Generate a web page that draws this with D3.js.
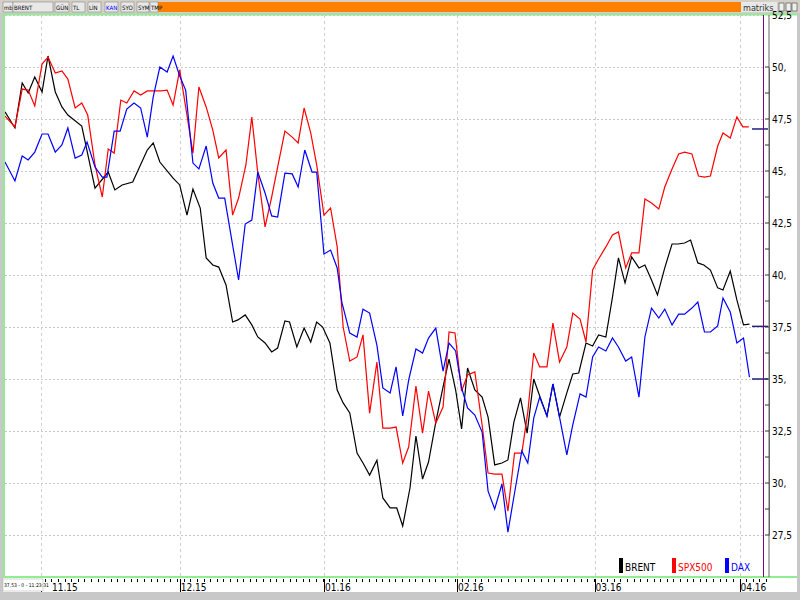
<!DOCTYPE html>
<html><head><meta charset="utf-8">
<script src="https://cdn.jsdelivr.net/npm/d3@7"></script>
<style>body{margin:0;background:#fff;overflow:hidden}svg{display:block}text{font-family:"Liberation Sans Narrow","DejaVu Sans Condensed","Liberation Sans",sans-serif}</style>
</head><body><svg id="c" width="800" height="600"></svg>
<script>
// [trading-day index, value]
const brent = [[0,47.84],[1.5,47.07],[2.6,49.23],[3.5,48.75],[4.5,49.52],[5.6,48.8],[6.5,50.53],[7.6,48.8],[8.6,48.08],[9.5,47.69],[11.6,47.16],[13.6,44.18],[15.6,44.95],[16.6,44.09],[17.7,44.33],[19.3,44.47],[21.5,46.01],[22.4,46.35],[23.4,45.43],[25.4,44.66],[26.4,44.33],[27.5,42.88],[28.4,44.13],[29.5,43.22],[30.4,40.82],[31.4,40.48],[32.3,40.38],[33.4,39.52],[34.4,37.74],[35.2,37.84],[36.3,38.08],[37.3,37.6],[38.2,37.02],[39.3,36.73],[40.3,36.3],[41.2,36.49],[42.3,37.79],[43,37.74],[44.1,36.54],[45.2,37.45],[46.2,36.78],[47.1,37.74],[48,37.5],[49.1,36.73],[50.2,34.47],[51.1,33.85],[52.1,33.37],[53.2,31.44],[54.1,30.96],[55.1,30.38],[56.2,31.1],[57.1,29.28],[58.2,28.8],[59.2,28.8],[60.1,27.93],[61.2,29.76],[62.1,32.26],[63.1,30.19],[64,31.01],[65.1,32.93],[66.2,34.62],[67.1,35.96],[68.1,34.47],[69,32.6],[69.9,35.53],[71,34.47],[72.1,34.13],[73,33.17],[74,30.87],[75.1,30.96],[76,31.11],[76.9,32.93],[77.9,34.09],[78.9,32.4],[79.9,35],[80.8,34.18],[81.9,33.22],[82.8,34.76],[83.8,33.17],[84.9,34.33],[85.8,35.24],[86.7,35.29],[87.8,36.73],[88.8,36.59],[89.7,37.12],[90.8,37.02],[91.8,38.94],[92.7,40.82],[93.7,39.62],[94.7,40.87],[95.8,40.34],[96.7,40.48],[97.7,39.76],[98.6,39.04],[99.7,40.34],[100.8,41.49],[101.7,41.49],[102.7,41.54],[103.6,41.68],[104.7,40.58],[105.6,40.48],[106.6,40.24],[107.7,39.38],[108.5,39.28],[109.6,40.19],[110.6,38.8],[111.6,37.6],[112.5,37.64]];
const spx500 = [[0,47.64],[1.5,47.12],[2.6,48.94],[3.5,48.89],[4.5,48.13],[5.6,50.14],[6.5,50.48],[7.6,49.71],[8.6,49.81],[9.5,49.42],[10.6,48.03],[11.6,48.27],[12.5,47.69],[13.6,45.29],[14.7,43.75],[15.6,46.06],[16.5,45.86],[17.5,48.41],[18.4,48.27],[19.5,48.85],[20.5,48.65],[21.5,48.85],[22.5,48.85],[23.6,48.85],[24.5,48.89],[25.4,48.17],[26.4,49.86],[27.3,48.08],[28.4,45.86],[29.3,49.04],[30.4,48.08],[31.4,46.97],[32.3,45.63],[33.4,46.01],[34.4,42.88],[35.3,43.7],[36.4,45.29],[37.3,47.59],[38.2,44.9],[39.3,42.31],[40.3,43.75],[41.2,45.19],[42.3,46.92],[43.4,46.63],[44.3,46.35],[45.2,48.03],[46.2,46.83],[47.1,45.29],[48.2,42.88],[49.2,43.22],[50.2,41.35],[51.1,37.5],[52.1,35.86],[53.2,36.06],[54.1,37.12],[55.1,33.36],[56.2,35.81],[57.1,32.64],[58.2,32.64],[59.1,32.69],[60.1,30.96],[61,31.73],[62.1,34.66],[63.1,32.4],[64,34.42],[65.1,32.88],[66.2,33.65],[67.1,37.26],[68,37.21],[69,34.42],[69.9,35.19],[71,35.34],[72.1,32.79],[73,30.48],[74,30.43],[75.1,30.43],[76,28.65],[77,31.44],[78.1,31.44],[79,33.41],[79.9,36.25],[80.8,35.58],[81.9,35.58],[82.8,37.69],[83.8,35.82],[84.9,36.54],[85.8,38.17],[86.9,37.88],[87.8,36.78],[88.8,40.24],[89.7,40.77],[90.8,41.35],[91.8,41.92],[92.7,42.07],[93.8,40.34],[94.7,41.06],[95.8,41.06],[96.7,43.65],[97.7,43.46],[98.8,43.17],[99.7,44.23],[100.8,45.1],[101.8,45.82],[102.7,45.91],[103.8,45.82],[104.8,44.76],[105.7,44.71],[106.6,44.76],[107.7,46.2],[108.5,46.83],[109.6,46.59],[110.6,47.6],[111.5,47.12],[112.4,47.12]];
const dax = [[0,45.43],[1.5,44.52],[2.6,45.72],[3.5,45.53],[4.5,45.91],[5.6,46.78],[6.5,46.78],[7.6,45.91],[8.6,46.25],[9.5,47.07],[10.6,45.62],[11.6,45.77],[12.4,46.39],[13.6,45.19],[14.7,44.71],[15.4,44.71],[16.5,46.92],[17.4,46.92],[18.4,47.98],[19.5,48.27],[20.5,48.03],[21.5,46.63],[22.4,48.56],[23.4,50.0],[24.5,49.76],[25.4,50.53],[26.4,49.57],[27.3,48.89],[28.4,45.38],[29.3,45.1],[30.4,46.2],[31.4,44.42],[32.3,43.7],[33.2,43.7],[34.4,41.44],[35.3,39.76],[36.3,42.45],[37.3,42.64],[38.2,44.95],[39.3,43.94],[40.3,42.84],[41.2,42.79],[42.3,44.9],[43.4,44.86],[44.3,44.23],[45.3,46.01],[46.4,44.95],[47.1,44.95],[48.2,41.01],[49.2,41.2],[50.2,40.34],[50.9,38.7],[52.1,37.21],[53.2,37.02],[54.1,38.36],[55.1,38.17],[56.2,36.63],[57.1,34.57],[58.2,34.33],[59.1,35.58],[60.1,33.22],[61,34.95],[62.1,36.44],[63.1,36.25],[64,36.97],[65.1,37.45],[66.2,35.38],[67.1,36.73],[68.1,36.35],[69,34.57],[69.9,33.61],[71,33.27],[72.1,32.45],[73,29.61],[74,28.75],[75.1,29.95],[76,27.64],[77,29.52],[78.1,31.54],[79,30.96],[79.9,33.12],[80.8,34.13],[81.9,33.22],[82.8,34.76],[83.8,33.17],[84.9,31.35],[85.8,32.79],[86.9,34.28],[87.8,34.13],[88.8,36.06],[89.7,36.54],[90.8,36.35],[91.8,36.97],[92.7,36.54],[93.8,35.86],[94.7,36.06],[95.8,34.13],[96.7,37.02],[97.7,38.41],[98.8,37.93],[99.7,38.36],[100.8,37.6],[101.8,38.12],[102.7,38.12],[103.8,38.41],[104.7,38.7],[105.7,37.26],[106.6,37.26],[107.7,37.55],[108.5,38.89],[109.6,38.22],[110.6,36.73],[111.6,36.97],[112.5,35.09]];
const lastValues = [47.02, 37.53, 35.0];
const seriesNames = ["BRENT","SPX500","DAX"];
const seriesColors = ["#000000","#ff0000","#0000ff"];
const yTicks = [27.5,30,32.5,35,37.5,40,42.5,45,47.5,50,52.5];
const monthTicks = [5.4,26.4,48.2,68.3,89.1,111];
const monthLabels = ["11.15","12.15","01.16","02.16","03.16","04.16"];

const svg = d3.select("#c");
const x = d3.scaleLinear().domain([0,115]).range([5,766]);
const y = d3.scaleLinear().domain([27.5,50]).range([535,67]);
const fmt = v => (Number.isInteger(v) ? v + "," : String(v).replace(".", ","));

svg.append("rect").attr("x",0).attr("y",0).attr("width",800).attr("height",600).attr("fill","#c8c8c8");
svg.append("rect").attr("x",3).attr("y",14).attr("width",794).attr("height",578).attr("fill","#fff");
svg.append("line").attr("x1",3).attr("x2",797).attr("y1",14.5).attr("y2",14.5).attr("stroke","#90ee90").attr("stroke-width",2);
svg.append("line").attr("x1",4).attr("x2",4).attr("y1",14).attr("y2",578).attr("stroke","#90ee90").attr("stroke-width",2);
svg.append("line").attr("x1",3).attr("x2",797).attr("y1",577).attr("y2",577).attr("stroke","#90ee90").attr("stroke-width",2);
svg.append("rect").attr("x",0).attr("y",0).attr("width",800).attr("height",13).attr("fill","#d4d0c8");
svg.append("rect").attr("x",158).attr("y",2).attr("width",583).attr("height",10).attr("fill","#ff8000");
const btns=[["mbl",3,10],["BRENT",13,40],["GÜN",55,14],["TL",72,13],["LİN",88,13],["KAN",105,13],["SYO",121,13],["SYM",137,12],["TMP",150,8]];
btns.forEach(b=>{svg.append("rect").attr("x",b[1]).attr("y",2).attr("width",b[2]).attr("height",10).attr("fill","#e8e8e8").attr("stroke","#777").attr("stroke-width",0.5);
 svg.append("text").attr("x",b[1]+1).attr("y",10).attr("font-size",6).attr("fill",b[0]=="KAN"?"#00f":"#000").text(b[0]);});
svg.append("rect").attr("x",741).attr("y",2).attr("width",36).attr("height",10).attr("fill","#e8e8e8");
svg.append("text").attr("x",743).attr("y",10.5).attr("font-size",9).attr("fill","#333").text("matriks");
[779,786,792].forEach(bx0=>svg.append("rect").attr("x",bx0).attr("y",3).attr("width",5).attr("height",8).attr("fill","#eee").attr("stroke","#444").attr("stroke-width",0.6));

svg.append("g").selectAll("line").data(yTicks).join("line")
 .attr("x1",5).attr("x2",763).attr("y1",d=>y(d)+0.5).attr("y2",d=>y(d)+0.5)
 .attr("stroke","#c8c8c8").attr("stroke-dasharray","2,2");
svg.append("g").selectAll("line").data(monthTicks).join("line")
 .attr("x1",d=>Math.round(x(d))+0.5).attr("x2",d=>Math.round(x(d))+0.5).attr("y1",15).attr("y2",576)
 .attr("stroke","#d0d0d0").attr("stroke-dasharray","3,3");

const line = d3.line().x(d=>x(d[0])).y(d=>y(d[1]));
const plot = svg.append("g");
plot.append("clipPath").attr("id","cp").append("rect").attr("x",5).attr("y",15).attr("width",758).attr("height",560);
[brent,spx500,dax].forEach((s,i)=>{
 plot.append("path").datum(s).attr("d",line).attr("fill","none").attr("stroke",seriesColors[i]).attr("stroke-width",1.2).attr("clip-path","url(#cp)");
});
plot.selectAll(".lm").data(lastValues).join("line").attr("x1",752).attr("x2",768)
 .attr("y1",d=>y(d)).attr("y2",d=>y(d)).attr("stroke","#202080").attr("stroke-width",1.5);

svg.append("line").attr("x1",763.5).attr("x2",763.5).attr("y1",15).attr("y2",577).attr("stroke","#800080").attr("stroke-width",1);
const ax = svg.append("g").attr("transform","translate(769,0)");
ax.call(d3.axisRight(y).tickValues(yTicks).tickSize(0).tickFormat(fmt));
ax.select(".domain").attr("stroke","#666");
ax.selectAll("text").attr("font-size",10).attr("fill","#000").attr("x",3).attr("dy","0.32em");
ax.append("path").attr("d","M0,15V577").attr("stroke","#666");
const minor = d3.range(0,19).map(i=>27.5+i*1.25).filter(v=>v<=52.5);
ax.selectAll(".mn").data(minor).join("line").attr("x1",-4).attr("x2",0).attr("y1",d=>y(d)).attr("y2",d=>y(d)).attr("stroke","#333");

const bx = svg.append("g");
bx.append("rect").attr("x",3).attr("y",578).attr("width",794).attr("height",14).attr("fill","#fff");
const dayTicks = d3.range(0,116);
bx.selectAll(".dt").data(dayTicks).join("line").attr("x1",d=>Math.round(x(d))+0.5).attr("x2",d=>Math.round(x(d))+0.5)
 .attr("y1",579).attr("y2",582).attr("stroke","#000");
bx.selectAll(".ml").data(monthTicks).join("line").attr("x1",d=>Math.round(x(d))+0.5).attr("x2",d=>Math.round(x(d))+0.5)
 .attr("y1",579).attr("y2",592).attr("stroke","#000");
bx.append("rect").attr("x",3).attr("y",579).attr("width",40).attr("height",12).attr("fill","#fff").attr("stroke","#aaa").attr("stroke-width",0.5);
bx.append("text").attr("x",4).attr("y",587).attr("font-size",5).attr("font-family","Liberation Serif, serif").text("37,53 - 0 - 11:23:31");
bx.selectAll(".mt").data(monthTicks).join("text").attr("x",(d,i)=>i===0?52:x(d)+1).attr("y",591)
 .attr("font-size",10).attr("font-family","Liberation Serif, serif").text((d,i)=>monthLabels[i]);
svg.append("rect").attr("x",0).attr("y",592).attr("width",800).attr("height",8).attr("fill","#c8c8c8");

const lg = svg.append("g");
const lx=[619,672,725];
seriesNames.forEach((n,i)=>{
 lg.append("rect").attr("x",lx[i]).attr("y",558).attr("width",4).attr("height",15).attr("fill",seriesColors[i]);
 lg.append("text").attr("x",lx[i]+6).attr("y",571).attr("font-size",10).attr("fill",seriesColors[i]).text(n);
});
</script></body></html>
